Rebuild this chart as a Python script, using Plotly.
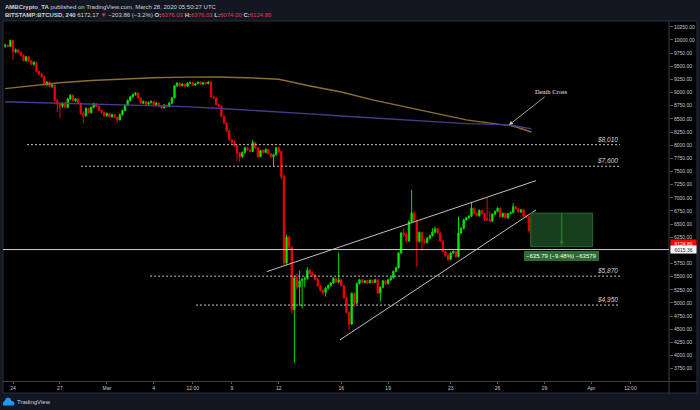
import plotly.graph_objects as go
import pandas as pd

# ---------------- data (BITSTAMP:BTCUSD, 4h candles) ----------------
first_candle = "2020-02-23 12:00"

opens = [
    9880, 9900, 9880,                          # Feb 23
    9990, 9780, 9810, 9760, 9710, 9610,        # Feb 24
    9680, 9600, 9540, 9570, 9400, 9350,        # Feb 25
    9300, 9150, 9200, 9120, 9140, 8850,        # Feb 26
    8780, 8740, 8800, 8720, 8880, 8950,        # Feb 27
    8850, 8880, 8800, 8600, 8560, 8700,        # Feb 28
    8620, 8720, 8790, 8740, 8660, 8620,        # Feb 29
    8560, 8600, 8540, 8580, 8530, 8480,        # Mar 1
    8580, 8660, 8760, 8850, 8920, 8960,        # Mar 2
    8990, 8900, 8800, 8830, 8780, 8810,        # Mar 3
    8830, 8770, 8800, 8740, 8710, 8760,        # Mar 4
    8730, 8800, 8900, 9130, 9180, 9130,        # Mar 5
    9160, 9120, 9180, 9190, 9140, 9170,        # Mar 6
    9200, 9160, 9190, 9170, 9200, 8920,        # Mar 7
    8900, 8770, 8740, 8550, 8420, 8270,        # Mar 8
    8100, 8050, 7990, 7850, 7780, 7860,        # Mar 9
    7950, 7910, 7880, 8050, 7950, 7780,        # Mar 10
    7900, 7860, 7920, 7840, 7780, 7820,        # Mar 11
    7950, 7880, 7400, 5760, 6250, 6060,        # Mar 12
    4870, 5480, 5300, 5420, 5450, 5470,        # Mar 13
    5625, 5560, 5530, 5450, 5320, 5240,        # Mar 14
    5200, 5280, 5330, 5380, 5470, 5400,        # Mar 15
    5440, 5330, 5100, 4820, 4600, 5180,        # Mar 16
    5000, 5370, 5440, 5390, 5420, 5380,        # Mar 17
    5430, 5390, 5440, 5190, 5300, 5420,        # Mar 18
    5370, 5440, 5480, 5600, 5670, 5950,        # Mar 19
    6330, 6300, 6180, 6550, 6710, 6560,        # Mar 20
    6170, 6340, 6180, 6150, 6230, 6280,        # Mar 21
    6350, 6410, 6330, 6180, 5980, 5900,        # Mar 22
    5830, 5950, 5980, 5880, 6330, 6420,        # Mar 23
    6580, 6620, 6650, 6800, 6700, 6660,        # Mar 24
    6760, 6700, 6600, 6580, 6560, 6690,        # Mar 25
    6740, 6800, 6640, 6700, 6620, 6700,        # Mar 26
    6720, 6830, 6790, 6730, 6770, 6650,        # Mar 27
    6640, 6376.03,                             # Mar 28
]
highs = [
    9930, 9920, 10010,
    10000, 9840, 9830, 9780, 9730, 9690,
    9700, 9620, 9600, 9590, 9420, 9370,
    9310, 9220, 9210, 9170, 9150, 8880,
    8800, 8820, 8810, 8900, 8970, 8960,
    8900, 8890, 8810, 8640, 8720, 8710,
    8740, 8810, 8800, 8750, 8680, 8640,
    8620, 8610, 8600, 8590, 8540, 8600,
    8680, 8780, 8870, 8940, 8980, 9010,
    9000, 8910, 8850, 8840, 8830, 8850,
    8840, 8820, 8810, 8760, 8780, 8770,
    8820, 8920, 9150, 9200, 9190, 9180,
    9170, 9190, 9210, 9200, 9180, 9210,
    9210, 9200, 9200, 9220, 9210, 8950,
    8910, 8790, 8750, 8570, 8440, 8290,
    8120, 8090, 8000, 7870, 7880, 7970,
    7970, 7930, 8100, 8060, 7960, 7910,
    7920, 7940, 7930, 7850, 7840, 7970,
    7970, 7900, 7450, 6300, 6280, 6080,
    5520, 5560, 5620, 5480, 5500, 5680,
    5650, 5600, 5550, 5470, 5340, 5260,
    5300, 5350, 5400, 5490, 5480, 5960,
    5460, 5340, 5120, 4840, 5200, 5200,
    5390, 5460, 5450, 5440, 5430, 5450,
    5440, 5460, 5450, 5320, 5430, 5440,
    5460, 5500, 5620, 5690, 5970, 6350,
    6420, 6340, 6570, 7150, 6740, 6580,
    6360, 6350, 6220, 6250, 6300, 6420,
    6450, 6420, 6340, 6190, 6000, 5950,
    5970, 6000, 5990, 6640, 6440, 6600,
    6640, 6670, 6900, 6820, 6720, 6780,
    6770, 6710, 7010, 6740, 6700, 6760,
    6820, 6810, 6720, 6710, 6710, 6740,
    6900, 6850, 6800, 6780, 6780, 6680,
    6660, 6376.03,
]
lows = [
    9850, 9860, 9870,
    9620, 9750, 9740, 9680, 9590, 9580,
    9580, 9520, 9510, 9380, 9330, 9280,
    9130, 9120, 9100, 9090, 8830, 8630,
    8520, 8710, 8700, 8700, 8860, 8830,
    8820, 8780, 8580, 8420, 8540, 8600,
    8600, 8700, 8720, 8640, 8600, 8540,
    8540, 8520, 8520, 8510, 8420, 8470,
    8560, 8640, 8740, 8830, 8900, 8940,
    8880, 8780, 8780, 8760, 8760, 8790,
    8750, 8750, 8720, 8690, 8700, 8710,
    8720, 8780, 8890, 9110, 9110, 9120,
    9100, 9110, 9160, 9130, 9130, 9160,
    9150, 9150, 9160, 9160, 8900, 8880,
    8760, 8720, 8530, 8400, 8250, 8080,
    8030, 7970, 7700, 7680, 7760, 7840,
    7890, 7860, 7870, 7930, 7760, 7770,
    7840, 7850, 7820, 7760, 7590, 7800,
    7860, 7350, 5700, 5720, 6020, 4800,
    3860, 5250, 4950, 4900, 5300, 5440,
    5540, 5500, 5430, 5300, 5220, 5150,
    5120, 5250, 5310, 5360, 5380, 5370,
    5310, 5080, 4800, 4480, 4580, 4920,
    4980, 5350, 5370, 5370, 5360, 5370,
    5370, 5380, 5170, 5030, 5280, 5350,
    5350, 5420, 5460, 5580, 5650, 5930,
    6250, 6150, 6160, 6520, 6540, 5680,
    6150, 5990, 6120, 6130, 6210, 6260,
    6330, 6310, 6160, 5960, 5880, 5790,
    5810, 5930, 5860, 5870, 6310, 6400,
    6560, 6600, 6630, 6680, 6640, 6640,
    6680, 6560, 6560, 6540, 6540, 6670,
    6720, 6620, 6620, 6600, 6600, 6680,
    6700, 6770, 6710, 6710, 6630, 6620,
    6340, 6074.00,
]
closes = [
    9900, 9880, 9990,
    9780, 9810, 9760, 9710, 9610, 9680,
    9600, 9540, 9570, 9400, 9350, 9300,
    9150, 9200, 9120, 9140, 8850, 8780,
    8740, 8800, 8720, 8880, 8950, 8850,
    8880, 8800, 8600, 8560, 8700, 8620,
    8720, 8790, 8740, 8660, 8620, 8560,
    8600, 8540, 8580, 8530, 8480, 8580,
    8660, 8760, 8850, 8920, 8960, 8990,
    8900, 8800, 8830, 8780, 8810, 8830,
    8770, 8800, 8740, 8710, 8760, 8730,
    8800, 8900, 9130, 9180, 9130, 9160,
    9120, 9180, 9190, 9140, 9170, 9200,
    9160, 9190, 9170, 9200, 8920, 8900,
    8770, 8740, 8550, 8420, 8270, 8100,
    8050, 7990, 7850, 7780, 7860, 7950,
    7910, 7880, 8050, 7950, 7780, 7900,
    7860, 7920, 7840, 7780, 7820, 7950,
    7880, 7400, 5760, 6250, 6060, 4870,
    5480, 5300, 5420, 5450, 5470, 5625,
    5560, 5530, 5450, 5320, 5240, 5200,
    5280, 5330, 5380, 5470, 5400, 5440,
    5330, 5100, 4820, 4600, 5180, 5000,
    5370, 5440, 5390, 5420, 5380, 5430,
    5390, 5440, 5190, 5300, 5420, 5370,
    5440, 5480, 5600, 5670, 5950, 6330,
    6300, 6180, 6550, 6710, 6560, 6170,
    6340, 6180, 6150, 6230, 6280, 6350,
    6410, 6330, 6180, 5980, 5900, 5830,
    5950, 5980, 5880, 6330, 6420, 6580,
    6620, 6650, 6800, 6700, 6660, 6760,
    6700, 6600, 6580, 6560, 6690, 6740,
    6800, 6640, 6700, 6620, 6700, 6720,
    6830, 6790, 6730, 6770, 6650, 6640,
    6376.03, 6124.80,
]

# moving averages (sampled)
ma_dates = ["2020-02-23 12:00", "2020-02-25", "2020-02-27", "2020-02-29", "2020-03-02",
            "2020-03-04", "2020-03-06", "2020-03-08", "2020-03-10", "2020-03-12",
            "2020-03-14", "2020-03-16", "2020-03-18", "2020-03-20", "2020-03-22",
            "2020-03-24", "2020-03-26", "2020-03-27", "2020-03-28 04:00"]
ma_gold = [9075, 9125, 9188, 9230, 9259, 9281, 9293, 9297, 9283, 9253,
           9125, 9010, 8860, 8730, 8605, 8480, 8400, 8365, 8250]
ma_purple = [8827, 8815, 8800, 8785, 8765, 8752, 8733, 8702, 8670, 8640,
             8595, 8555, 8520, 8475, 8450, 8410, 8395, 8375, 8310]

# horizontal levels (drawn position, label)
level_prices = [8010, 7600, 5510, 4960]
level_labels = ["$8,010", "$7,600", "$5,870", "$4,950"]
level_starts = ["2020-02-24 21:30", "2020-02-28 08:30", "2020-03-03 18:30", "2020-03-06 17:00"]
level_end = "2020-04-02 20:00"

# rising wedge
wedge_upper_x = ["2020-03-11 05:30", "2020-03-28 11:00"]
wedge_upper_y = [5595, 7325]
wedge_lower_x = ["2020-03-15 22:00", "2020-03-28 11:00"]
wedge_lower_y = [4297, 6768]

hline_price = 6015.36
last_price = 6124.80

# short-position target box
box_x = ["2020-03-28 03:00", "2020-04-01 02:00"]
box_y = [6071, 6707]
box_mid = "2020-03-30 02:30"
box_label = "−635.79 (−9.48%) −63579"

death_cross_x = "2020-03-26 17:30"
death_cross_y = 8384

tick_dates = ["2020-02-24", "2020-02-27", "2020-03-01", "2020-03-04", "2020-03-06 12:00",
              "2020-03-09", "2020-03-12", "2020-03-16", "2020-03-19", "2020-03-23",
              "2020-03-26", "2020-03-29", "2020-04-01", "2020-04-03 12:00"]
tick_text = ["24", "27", "Mar", "4", "12:00", "9", "12", "16", "19", "23",
             "26", "29", "Apr", "12:00"]

# ---------------- figure ----------------
W, H = 700, 410
def px(x): return x / W
def py(y): return 1 - y / H

FONT = "Liberation Sans, Arial, sans-serif"
TXT = "#c8cad0"
RED = "#f23645"

times = pd.date_range(first_candle, periods=len(closes), freq="4h")

fig = go.Figure()
fig.add_trace(go.Candlestick(
    x=times, open=opens, high=highs, low=lows, close=closes,
    increasing=dict(line=dict(color="#00dd00", width=1), fillcolor="#00ff00"),
    decreasing=dict(line=dict(color="#ee0000", width=1), fillcolor="#ff0000"),
    whiskerwidth=0, showlegend=False, hoverinfo="skip"))

fig.add_trace(go.Scatter(x=ma_dates, y=ma_gold, mode="lines",
                         line=dict(color="#8c6f34", width=1.4), hoverinfo="skip"))
fig.add_trace(go.Scatter(x=ma_dates, y=ma_purple, mode="lines",
                         line=dict(color="#4a3b8a", width=1.4), hoverinfo="skip"))

for p, s in zip(level_prices, level_starts):
    fig.add_trace(go.Scatter(x=[s, level_end], y=[p, p], mode="lines",
                             line=dict(color="#c8c8c8", width=1, dash="2px,2px"),
                             hoverinfo="skip"))

fig.add_trace(go.Scatter(x=wedge_upper_x, y=wedge_upper_y, mode="lines",
                         line=dict(color="#c0c0c0", width=1), hoverinfo="skip"))
fig.add_trace(go.Scatter(x=wedge_lower_x, y=wedge_lower_y, mode="lines",
                         line=dict(color="#c0c0c0", width=1), hoverinfo="skip"))

shapes = [
    # chart frame
    dict(type="rect", xref="paper", yref="paper", x0=px(3), x1=px(697), y0=py(393), y1=py(21),
         fillcolor="#000000", line=dict(color="#2a2e39", width=1), layer="below"),
    dict(type="line", xref="paper", yref="paper", x0=px(669), x1=px(669), y0=py(393), y1=py(21),
         line=dict(color="#3a3e48", width=1)),
    dict(type="line", xref="paper", yref="paper", x0=px(3), x1=px(697), y0=py(381.5), y1=py(381.5),
         line=dict(color="#3a3e48", width=1)),
    # horizontal line at 6015.36
    dict(type="line", xref="x domain", yref="y", x0=0, x1=1, y0=hline_price, y1=hline_price,
         line=dict(color="#d0d0d0", width=1)),
    # target box
    dict(type="rect", xref="x", yref="y", x0=box_x[0], x1=box_x[1], y0=box_y[0], y1=box_y[1],
         fillcolor="#183f1d", line=dict(color="#2a6a30", width=1)),
    dict(type="line", xref="x", yref="y", x0=box_mid, x1=box_mid, y0=box_y[0] + 40, y1=box_y[1],
         line=dict(color="#2f7a36", width=1)),
    # TradingView logo cloud
    dict(type="path", xref="paper", yref="paper",
         path="M {} {} L {} {} L {} {} L {} {} L {} {} L {} {} L {} {} L {} {} L {} {} L {} {} Z".format(
             px(3), py(405.5), px(13.5), py(405.5), px(14.5), py(403.5), px(13.5), py(401.5),
             px(11.5), py(401), px(10.2), py(398.3), px(7.8), py(397.5), px(5.8), py(398.6),
             px(5), py(400.6), px(3), py(402.5)),
         fillcolor="#2196f3", line=dict(width=0)),
]

annotations = [
    dict(xref="paper", yref="paper", x=px(3), y=py(6.5), xanchor="left", yanchor="middle",
         showarrow=False, font=dict(family=FONT, size=6, color="#d1d4dc"),
         text="<b>AMBCrypto_TA</b> published on TradingView.com, March 28, 2020 05:50:27 UTC"),
    dict(xref="paper", yref="paper", x=px(3), y=py(14.5), xanchor="left", yanchor="middle",
         showarrow=False, font=dict(family=FONT, size=6, color="#d1d4dc"),
         text=("<b>BITSTAMP:BTCUSD, 240</b> 6172.17 <span style='color:%s'>▼</span> −203.86 (−3.2%%) "
               "<b>O:</b><span style='color:%s'>6376.03</span> <b>H:</b><span style='color:%s'>6376.03</span> "
               "<b>L:</b><span style='color:%s'>6074.00</span> <b>C:</b><span style='color:%s'>6124.80</span>")
              % (RED, RED, RED, RED, RED)),
    dict(xref="paper", yref="paper", x=px(15), y=py(402), xanchor="left", yanchor="middle",
         showarrow=False, font=dict(family=FONT, size=6, color="#d1d4dc"), text="TradingView"),
    # Death Cross
    dict(x=death_cross_x, y=death_cross_y, xref="x", yref="y", text="Death Cross",
         showarrow=True, ax=42, ay=-33, arrowcolor="#c8c8c8", arrowwidth=0.8, arrowhead=2,
         arrowsize=1, standoff=0,
         font=dict(family="Liberation Serif, Times New Roman, serif", size=6.5, color="#e8e8e8")),
    # target arrow
    dict(x=box_mid, y=6095, xref="x", yref="y", text="", showarrow=True, ax=0, ay=-30,
         arrowcolor="#2f7a36", arrowwidth=1, arrowhead=2, arrowsize=0.8),
    # target label
    dict(x=box_mid, y=5888, xref="x", yref="y", text=box_label, showarrow=False,
         bgcolor="#2b6a31", bordercolor="#3c8a44", borderwidth=0.5, borderpad=1.5,
         font=dict(family=FONT, size=6, color="#ffffff")),
    # right axis price tags
    dict(xref="paper", yref="y", x=px(669.5), y=last_price, xanchor="left", yanchor="middle",
         text="6124.80", showarrow=False, bgcolor="#ff0000", borderpad=0.6, width=24,
         font=dict(family=FONT, size=5, color="#ffffff")),
    dict(xref="paper", yref="y", x=px(669.5), y=hline_price, xanchor="left", yanchor="middle",
         text="6015.36", showarrow=False, bgcolor="#ffffff", borderpad=0.6, width=24,
         font=dict(family=FONT, size=5, color="#131722")),
]

for p, lab in zip(level_prices, level_labels):
    annotations.append(dict(x=level_end, y=p, xref="x", yref="y", text="<i>%s</i>" % lab,
                            xanchor="right", yanchor="bottom", showarrow=False, yshift=0,
                            font=dict(family=FONT, size=6.5, color="#d8d8d8")))

fig.update_layout(
    width=W, height=H, margin=dict(l=0, r=0, t=0, b=0),
    paper_bgcolor="#131722", plot_bgcolor="#000000", showlegend=False,
    shapes=shapes, annotations=annotations,
    xaxis=dict(domain=[px(3), px(669)], type="date",
               range=["2020-02-23 08:38", "2020-04-05 23:15"],
               tickmode="array", tickvals=tick_dates, ticktext=tick_text,
               ticks="outside", ticklen=2, tickcolor="#555a66",
               tickfont=dict(family=FONT, size=5, color=TXT),
               showgrid=False, zeroline=False, showline=False,
               rangeslider=dict(visible=False), fixedrange=True),
    yaxis=dict(domain=[py(381), py(21)], range=[3516, 10361], side="right",
               tick0=0, dtick=250, tickformat=".2f",
               ticks="outside", ticklen=3, tickcolor="#555a66",
               tickfont=dict(family=FONT, size=5, color=TXT),
               showgrid=False, zeroline=False, showline=False, fixedrange=True),
)

fig.write_html("out.html", config={"displayModeBar": False},
               post_script="document.body.style.margin='0';document.body.style.overflow='hidden';document.body.style.background='#131722';")
